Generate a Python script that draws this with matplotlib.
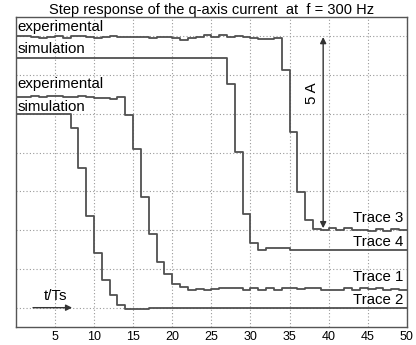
import matplotlib
matplotlib.use("Agg")
import matplotlib.pyplot as plt
import numpy as np

# -------------------------
# data (q-axis current, one value per sample interval t/Ts = k .. k+1)
# -------------------------
t = np.arange(0, 51)

trace3_exp = [7.50, 7.50, 7.48, 7.45, 7.48, 7.50, 7.46, 7.50, 7.52, 7.48,
              7.46, 7.48, 7.50, 7.47, 7.47, 7.49, 7.47, 7.46, 7.48, 7.47,
              7.46, 7.41, 7.45, 7.47, 7.53, 7.47, 7.53, 7.48, 7.51, 7.48,
              7.46, 7.44, 7.44, 7.46, 6.64, 5.03, 3.49, 2.77, 2.52, 2.50,
              2.55, 2.50, 2.55, 2.50, 2.50, 2.48, 2.52, 2.48, 2.52, 2.50]

trace4_sim = [6.95] * 27 + [6.26, 4.51, 2.92, 2.18, 2.00, 2.05, 2.05, 2.05] + [2.00] * 15

trace1_exp = [5.93, 5.93, 5.95, 5.93, 5.95, 5.97, 5.93, 5.93, 5.95, 5.93,
              5.90, 5.90, 5.87, 5.93, 5.46, 4.59, 3.36, 2.41, 1.69, 1.38,
              1.10, 1.03, 0.96, 0.97, 0.96, 0.98, 1.00, 1.00, 1.02, 0.96,
              1.00, 0.95, 1.00, 0.96, 1.00, 1.00, 0.98, 1.00, 1.00, 0.96,
              0.96, 0.96, 1.00, 0.95, 1.00, 0.98, 1.00, 0.96, 0.97, 0.95]

trace2_sim = [5.49] * 7 + [5.13, 4.10, 2.87, 1.90, 1.21, 0.82, 0.56, 0.46, 0.46, 0.46] + [0.49] * 33

xticks = [5, 10, 15, 20, 25, 30, 35, 40, 45, 50]
ygrid = [0.5, 1.5, 2.5, 3.5, 4.5, 5.5, 6.5, 7.5]

# -------------------------
# figure
# -------------------------
plt.rcParams['font.family'] = ['Liberation Sans', 'DejaVu Sans']
fig = plt.figure(figsize=(4.16, 3.45), dpi=100)
ax = fig.add_axes([0.038, 0.052, 0.940, 0.899])

lc = '#505050'
for series in (trace3_exp, trace4_sim, trace1_exp, trace2_sim):
    ax.plot(t, series + [series[-1]], drawstyle='steps-post', color=lc, lw=1.3)

ax.set_xlim(0, 50)
ax.set_ylim(0, 8)
ax.set_xticks(xticks)
ax.set_xticklabels([str(v) for v in xticks], fontsize=9)
ax.set_yticks(ygrid)
ax.set_yticklabels([])
ax.tick_params(length=0, pad=3)
ax.grid(True, color='#999999', ls=(0, (1, 2)), lw=0.8)
for s in ax.spines.values():
    s.set_color('#555555')
    s.set_linewidth(1.0)

ax.set_title("Step response of the q-axis current  at  f = 300 Hz", fontsize=10.5, pad=2)

fs = 10.8
ax.text(0.25, 7.75, "experimental", fontsize=fs, va='center', ha='left')
ax.text(0.25, 7.18, "simulation", fontsize=fs, va='center', ha='left')
ax.text(0.25, 6.26, "experimental", fontsize=fs, va='center', ha='left')
ax.text(0.25, 5.67, "simulation", fontsize=fs, va='center', ha='left')

ax.text(49.6, 2.82, "Trace 3", fontsize=fs, va='center', ha='right')
ax.text(49.6, 2.20, "Trace 4", fontsize=fs, va='center', ha='right')
ax.text(49.6, 1.28, "Trace 1", fontsize=fs, va='center', ha='right')
ax.text(49.6, 0.69, "Trace 2", fontsize=fs, va='center', ha='right')

# 5 A arrow
ax.annotate("", xy=(39.3, 7.48), xytext=(39.3, 2.55),
            arrowprops=dict(arrowstyle='<|-|>', color='#333333', lw=1.0,
                            shrinkA=0, shrinkB=0, mutation_scale=9))
ax.text(37.9, 6.03, "5 A", fontsize=fs, rotation=90, va='center', ha='center')

# t/Ts arrow
ax.annotate("", xy=(7.2, 0.5), xytext=(2.2, 0.5),
            arrowprops=dict(arrowstyle='-|>', color='#333333', lw=1.0,
                            shrinkA=0, shrinkB=0, mutation_scale=9))
ax.text(5.1, 0.79, "t/Ts", fontsize=fs, va='center', ha='center')

fig.savefig("out.png", dpi=100)
